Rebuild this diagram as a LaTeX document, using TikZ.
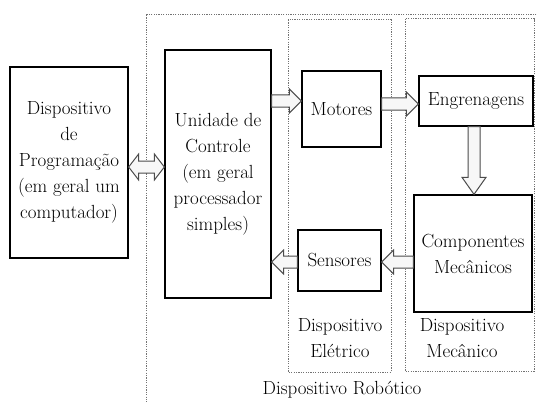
\documentclass[tikz,border=0pt]{standalone}
\usepackage{fontspec}
\usetikzlibrary{calc}
\definecolor{arrowgray}{gray}{0.3}
\definecolor{dotgray}{gray}{0.45}
\tikzset{
  box/.style={draw=black, line width=1.3pt, fill=white, inner sep=0pt, align=center,
    font=\fontsize{19}{26}\selectfont},
  lbl/.style={inner sep=0pt, align=center, font=\fontsize{19}{26}\selectfont},
  group/.style={draw=dotgray, line width=1pt, dash pattern=on 1.2pt off 1.2pt},
  blk/.style args={#1/#2/#3}{draw=arrowgray, fill=gray!6, line width=1pt, line join=miter,
    to path={($(\tikztostart)!#1!90:(\tikztotarget)$)
      -- ($(\tikztotarget)!#3!(\tikztostart)!#1!-90:(\tikztostart)$)
      -- ($(\tikztotarget)!#3!(\tikztostart)!#2!-90:(\tikztostart)$)
      -- (\tikztotarget)
      -- ($(\tikztotarget)!#3!(\tikztostart)!#2!90:(\tikztostart)$)
      -- ($(\tikztotarget)!#3!(\tikztostart)!#1!90:(\tikztostart)$)
      -- ($(\tikztostart)!#1!-90:(\tikztotarget)$) -- cycle}},
  dblk/.style args={#1/#2/#3}{draw=arrowgray, fill=gray!6, line width=1pt, line join=miter,
    to path={(\tikztostart)
      -- ($(\tikztostart)!#3!(\tikztotarget)!#2!90:(\tikztotarget)$)
      -- ($(\tikztostart)!#3!(\tikztotarget)!#1!90:(\tikztotarget)$)
      -- ($(\tikztotarget)!#3!(\tikztostart)!#1!-90:(\tikztostart)$)
      -- ($(\tikztotarget)!#3!(\tikztostart)!#2!-90:(\tikztostart)$)
      -- (\tikztotarget)
      -- ($(\tikztotarget)!#3!(\tikztostart)!#2!90:(\tikztostart)$)
      -- ($(\tikztotarget)!#3!(\tikztostart)!#1!90:(\tikztostart)$)
      -- ($(\tikztostart)!#3!(\tikztotarget)!#1!-90:(\tikztotarget)$)
      -- ($(\tikztostart)!#3!(\tikztotarget)!#2!-90:(\tikztotarget)$)
      -- cycle}},
}
\begin{document}
\begin{tikzpicture}[x=1pt, y=-1pt]
\useasboundingbox (0,0) rectangle (537,401);
\clip (0,0) rectangle (537,401);
\fill[white] (0,0) rectangle (537,401);

% group frames
\draw[group] (146,15) rectangle (545,410);
\draw[group] (288,20) rectangle (391,372);
\draw[group] (405,19) rectangle (534,371);

% blocks
\node[box, minimum width=118pt, minimum height=191pt] (prog) at (69,162.5)
  {Dispositivo\\de\\Programação\\(em geral um\\computador)};
\node[box, minimum width=106pt, minimum height=248pt] (ctrl) at (218,174)
  {Unidade de\\Controle\\(em geral\\processador\\simples)};
\node[box, minimum width=79pt, minimum height=76pt] (mot) at (341.5,109) {Motores};
\node[box, minimum width=114pt, minimum height=50pt] (eng) at (476,101) {Engrenagens};
\node[box, minimum width=118pt, minimum height=117pt] (comp) at (473,253.5)
  {Componentes\\Mecânicos};
\node[box, minimum width=83pt, minimum height=61pt] (sens) at (339.5,260.5) {Sensores};

% labels
\node[lbl] (lelet) at (340,338.5) {Dispositivo\\Elétrico};
\node[lbl] (lmec) at (462,338.5) {Dispositivo\\Mecânico};
\node[lbl] (lrob) at (342,390) {Dispositivo Robótico};

% arrow end points
\coordinate (a0s) at ([yshift=-4.5pt]prog.east);
\coordinate (a0t) at ([yshift=-4.5pt]prog.east -| ctrl.west);
\coordinate (a1s) at ([yshift=8pt]mot.west -| ctrl.east);
\coordinate (a1t) at ([yshift=8pt]mot.west);
\coordinate (a2s) at ([yshift=5pt]mot.east);
\coordinate (a2t) at ([yshift=5pt]mot.east -| eng.west);
\coordinate (a3s) at ([xshift=-2pt]eng.south);
\coordinate (a3t) at ([xshift=-2pt]eng.south |- comp.north);
\coordinate (a4s) at ([yshift=-1.5pt]sens.east -| comp.west);
\coordinate (a4t) at ([yshift=-1.5pt]sens.east);
\coordinate (a5s) at ([yshift=-1.5pt]sens.west);
\coordinate (a5t) at ([yshift=-1.5pt]sens.west -| ctrl.east);

% arrows
\draw[dblk=6pt/13pt/10pt] (a0s) to (a0t);
\draw[blk=6pt/12pt/12pt] (a1s) to (a1t);
\draw[blk=6pt/12pt/12pt] (a2s) to (a2t);
\draw[blk=6pt/12pt/17pt] (a3s) to (a3t);
\draw[blk=6pt/12pt/12pt] (a4s) to (a4t);
\draw[blk=6pt/12pt/12pt] (a5s) to (a5t);
\end{tikzpicture}
\end{document}
